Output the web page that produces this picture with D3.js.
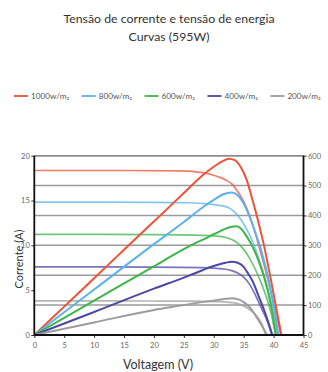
<!DOCTYPE html>
<html><head><meta charset="utf-8">
<script src="https://cdn.jsdelivr.net/npm/d3@7"></script>
<style>
html,body{margin:0;padding:0;background:#fff;overflow:hidden}
svg{display:block}
text{font-family:Lato,"Open Sans",sans-serif}
</style></head>
<body><svg id="c" width="328" height="372"></svg>
<script>
const titleLines = ["Tensão de corrente e tensão de energia", "Curvas (595W)"];
const seriesNames = ["1000w/m₂", "800w/m₂", "600w/m₂", "400w/m₂", "200w/m₂"];
const seriesColors = ["#ee5237", "#5db2ea", "#3db548", "#4c48a6", "#9c9c9c"];
const xTicks = [0,5,10,15,20,25,30,35,40,45];
const yTicksI = [0,5,10,15,20];
const yTicksP = [0,100,200,300,400,500,600];

// I-V curves [V, A]
const iv1000 = [[0,18.35],[15,18.35],[24,18.3],[27,18.2],[29,18.0],[30.5,17.7],[32,17.3],[33,16.85],[34,16.0],[35,14.9],[36,13.3],[37,11.2],[38,8.8],[39,6.3],[40,3.6],[41.2,0]];
const iv800  = [[0,14.83],[20,14.8],[26,14.75],[29,14.62],[31,14.45],[32.5,14.2],[33.5,13.7],[34.5,12.9],[35.5,11.8],[36.5,10.4],[37.5,8.6],[38.5,6.5],[39.5,4.0],[40.7,0]];
const iv600  = [[0,11.23],[20,11.2],[27,11.15],[30,11.05],[32,10.88],[33,10.65],[34,10.25],[35,9.55],[36,8.55],[37,7.25],[38,5.7],[39,3.8],[39.7,2.1],[40.3,0]];
const iv400  = [[0,7.6],[20,7.58],[28,7.52],[30,7.45],[32,7.33],[33,7.18],[34,6.92],[35,6.45],[36,5.65],[37,4.4],[38,2.95],[39,1.45],[39.7,0]];
const iv200  = [[0,3.8],[20,3.79],[28,3.76],[31,3.72],[33,3.62],[34,3.5],[35,3.25],[36,2.85],[37,2.25],[38,1.3],[38.7,0]];
// P-V curves [V, W]
const pv1000 = [[0,0],[5,95],[10,190],[15,285],[20,380],[25,475],[28,532],[30,563],[31.5,582],[32.5,590],[33.5,585],[34.5,562],[35.5,519],[36.5,450],[37.5,375],[38.5,290],[39.5,190],[40.5,85],[41.3,0]];
const pv800  = [[0,0],[10,152],[20,304],[25,378],[28,425],[30,452],[31.5,470],[33,477],[34,468],[35,440],[36,395],[37,340],[38,278],[39,200],[40,100],[40.8,0]];
const pv600  = [[0,0],[10,115],[20,230],[25,287],[27,308],[29,327],[31,347],[32,356],[33,362],[33.8,364],[34.6,355],[35.5,330],[36.5,295],[37.5,248],[38.5,188],[39.5,105],[40.4,0]];
const pv400  = [[0,0],[10,77],[20,155],[25,192],[28,216],[29.2,226],[31,237],[32,242],[33,245.5],[34,242],[35,228],[35.7,207],[36.5,180],[37.5,130],[38.2,95],[39,50],[39.8,0]];
const pv200  = [[0,0],[10,42],[20,84],[25,100],[28,110],[30,115],[32,121],[33,123],[34,120],[35,110],[36,93],[37,65],[38,33],[38.9,0]];

const ivAll = [iv1000, iv800, iv600, iv400, iv200];
const pvAll = [pv1000, pv800, pv600, pv400, pv200];

const svg = d3.select("#c");
const L = 34.3, R = 303.5, T = 155.7, B = 335;
const x = d3.scaleLinear().domain([0,45]).range([L,R]);
const yI = d3.scaleLinear().domain([0,20]).range([B,T]);
const yP = d3.scaleLinear().domain([0,600]).range([B,T]);

// title
svg.selectAll("text.title").data(titleLines).join("text")
  .attr("class","title")
  .attr("x",169).attr("y",(d,i)=>23+i*17.5)
  .attr("text-anchor","middle")
  .attr("font-size",12.3).attr("fill","#333")
  .text(d=>d);

// legend
const lg = svg.append("g");
let lx = 14;
seriesNames.forEach((n,i)=>{
  lg.append("line").attr("x1",lx).attr("x2",lx+14).attr("y1",96).attr("y2",96)
    .attr("stroke",seriesColors[i]).attr("stroke-width",1.8);
  const t = lg.append("text").attr("x",lx+17).attr("y",99).attr("font-size",8.2)
    .attr("fill","#555").text(n);
  lx += 17 + t.node().getComputedTextLength() + 12.5;
});

// gridlines
svg.append("g").selectAll("line").data(yTicksP.filter(d=>d>0)).join("line")
  .attr("x1",L).attr("x2",R).attr("y1",d=>yP(d)).attr("y2",d=>yP(d))
  .attr("stroke","#9a9a9a").attr("stroke-width",1.5);

// curves
const line = d3.line().x(d=>x(d[0])).curve(d3.curveMonotoneX);
const gI = svg.append("g").attr("fill","none");
ivAll.forEach((s,i)=>{
  gI.append("path").attr("d", line.y(d=>yI(d[1]))(s))
    .attr("stroke",seriesColors[i]).attr("stroke-width",1.7).attr("stroke-opacity",0.75);
});
const gP = svg.append("g").attr("fill","none");
pvAll.forEach((s,i)=>{
  gP.append("path").attr("d", line.y(d=>yP(d[1]))(s))
    .attr("stroke",seriesColors[i]).attr("stroke-width",2);
});

// axes
function styleAxis(g){
  g.select(".domain").remove();
  g.selectAll(".tick line").attr("stroke","#333");
  g.selectAll(".tick text").attr("fill","#666").attr("font-size",7.5).attr("font-family","Lato,'Open Sans',sans-serif");
}
svg.append("g").attr("transform",`translate(0,${B})`)
  .call(d3.axisBottom(x).tickValues(xTicks).tickSize(3).tickPadding(5)).call(styleAxis);
svg.append("g").attr("transform",`translate(${L},0)`)
  .call(d3.axisLeft(yI).tickValues(yTicksI).tickSize(3).tickPadding(1.5)).call(styleAxis);
svg.append("g").attr("transform",`translate(${R},0)`)
  .call(d3.axisRight(yP).tickValues(yTicksP).tickSize(3).tickPadding(1.5)).call(styleAxis);

// axis lines
svg.append("line").attr("x1",L).attr("x2",R).attr("y1",T).attr("y2",T).attr("stroke","#8a8a8a").attr("stroke-width",1.5);
svg.append("line").attr("x1",L).attr("x2",L).attr("y1",T).attr("y2",B).attr("stroke","#111").attr("stroke-width",1.8);
svg.append("line").attr("x1",R).attr("x2",R).attr("y1",T).attr("y2",B).attr("stroke","#111").attr("stroke-width",1.8);
svg.append("line").attr("x1",L).attr("x2",R).attr("y1",B).attr("y2",B).attr("stroke","#111").attr("stroke-width",1.8);

// axis titles
svg.append("text").attr("transform","translate(23,259) rotate(-90)")
  .attr("text-anchor","middle").attr("font-size",11).attr("fill","#333").text("Corrente (A)");
svg.append("text").attr("x",158).attr("y",369)
  .attr("text-anchor","middle").attr("font-size",12.5).attr("fill","#333").text("Voltagem (V)");
</script></body></html>
